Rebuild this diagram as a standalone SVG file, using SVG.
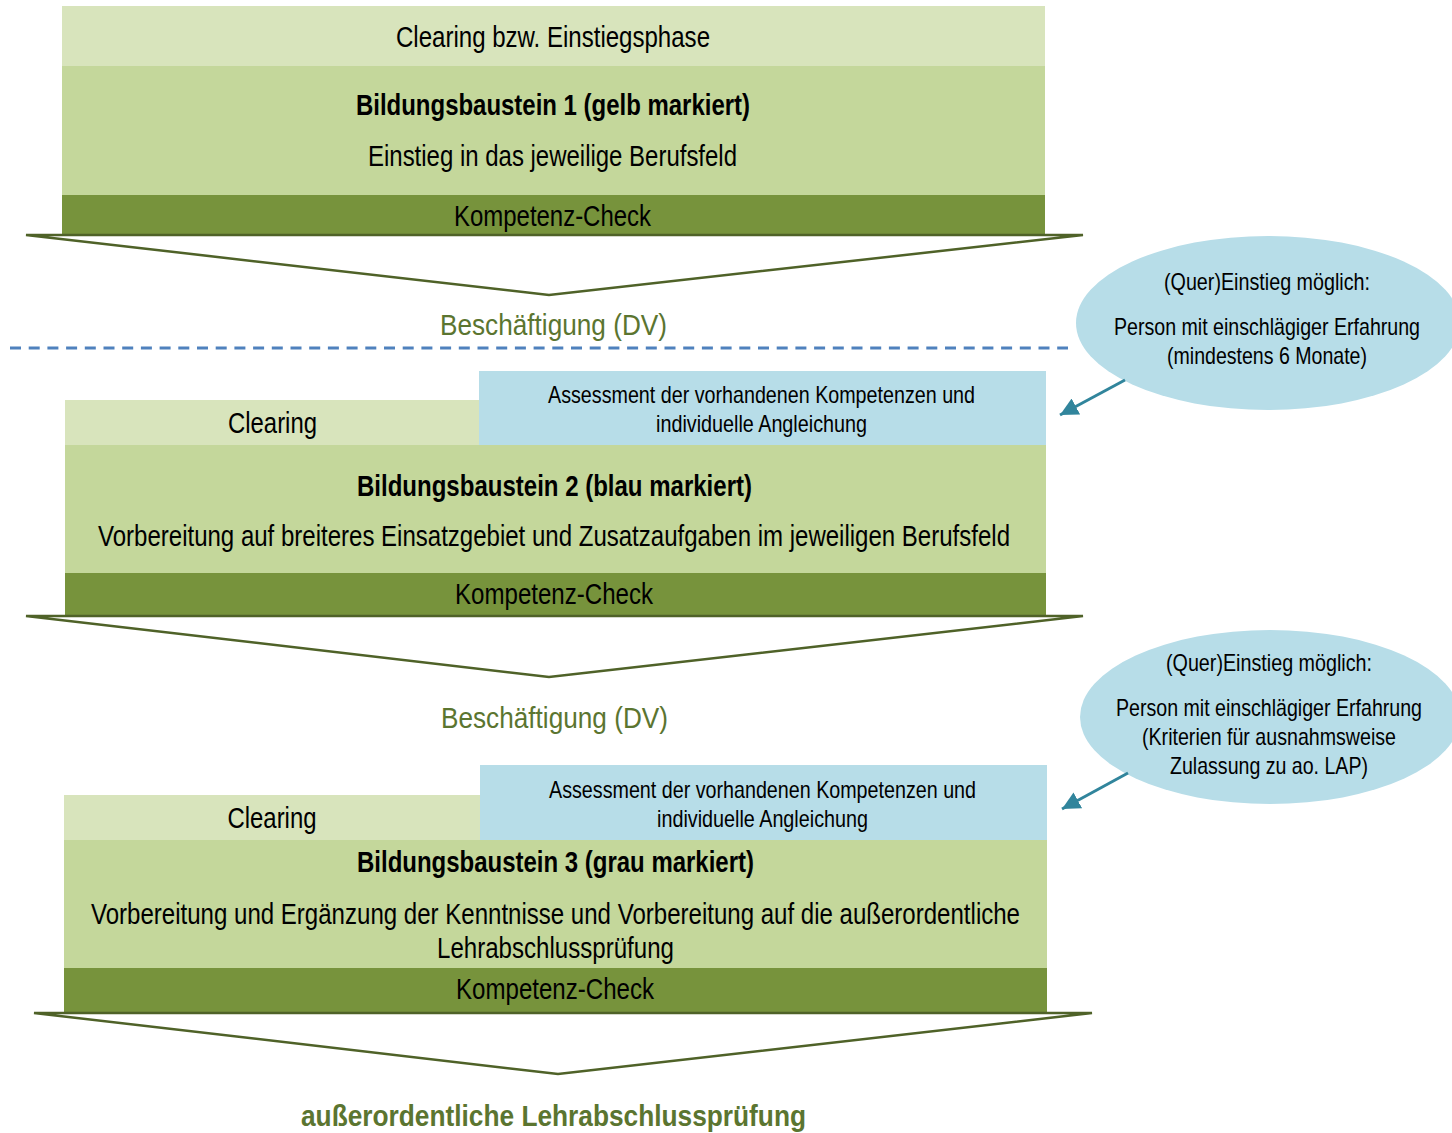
<svg xmlns="http://www.w3.org/2000/svg" width="1452" height="1133" viewBox="0 0 1452 1133">
  <style>
    text { font-family: "Liberation Sans Narrow", "Arial Narrow", "Liberation Sans", sans-serif; fill: #000; text-anchor: middle; }
    .t26 { font-size: 29px; }
    .t22 { font-size: 24px; }
    .b { font-weight: bold; }
    .green { fill: #5B7530; }
    .light { fill: #D8E4BC; }
    .mid { fill: #C4D79B; }
    .dark { fill: #77933C; }
    .blue { fill: #B7DDE8; }
    .chev { fill: #FFFFFF; stroke: #4F6228; stroke-width: 2.5; stroke-linejoin: miter; }
    .link { stroke: #31859C; stroke-width: 3; fill: none; }
  </style>
  <defs>
    <marker id="tri" viewBox="0 0 10 10" refX="10" refY="5" markerWidth="6" markerHeight="6" orient="auto" markerUnits="strokeWidth">
      <path d="M0,0 L10,5 L0,10 Z" fill="#31859C"/>
    </marker>
  </defs>
  <rect width="1452" height="1133" fill="#FFFFFF"/>

  <!-- module 1 -->
  <g id="baustein1">
    <rect class="light" x="62" y="6" width="983" height="60"/>
    <text class="t26" x="553" y="47" textLength="314" lengthAdjust="spacingAndGlyphs">Clearing bzw. Einstiegsphase</text>
    <rect class="mid" x="62" y="66" width="983" height="129"/>
    <text class="t26 b" x="553" y="115" textLength="394" lengthAdjust="spacingAndGlyphs">Bildungsbaustein 1 (gelb markiert)</text>
    <text class="t26" x="552.5" y="166" textLength="369" lengthAdjust="spacingAndGlyphs">Einstieg in das jeweilige Berufsfeld</text>
    <rect class="dark" x="62" y="195" width="983" height="40"/>
    <text class="t26" x="552.5" y="226" textLength="197" lengthAdjust="spacingAndGlyphs">Kompetenz-Check</text>
  </g>
  <g id="pfeil1">
    <polygon class="chev" points="26,235 1083,235 549,295"/>
  </g>
  <g id="beschaeftigung1">
    <text class="t26 green" x="553.5" y="335" textLength="227" lengthAdjust="spacingAndGlyphs">Beschäftigung (DV)</text>
  </g>
  <line x1="10" y1="348" x2="1068" y2="348" stroke="#4F81BD" stroke-width="3" stroke-dasharray="11 7.7"/>

  <!-- module 2 -->
  <g id="baustein2">
    <rect class="light" x="65" y="400" width="414" height="45"/>
    <text class="t26" x="272.5" y="433" textLength="89" lengthAdjust="spacingAndGlyphs">Clearing</text>
    <rect class="blue" x="479" y="371" width="567" height="74"/>
    <text class="t22" x="761.5" y="403" textLength="427" lengthAdjust="spacingAndGlyphs">Assessment der vorhandenen Kompetenzen und</text>
    <text class="t22" x="761.5" y="432" textLength="211" lengthAdjust="spacingAndGlyphs">individuelle Angleichung</text>
    <rect class="mid" x="65" y="445" width="981" height="128"/>
    <text class="t26 b" x="554.5" y="496" textLength="395" lengthAdjust="spacingAndGlyphs">Bildungsbaustein 2 (blau markiert)</text>
    <text class="t26" x="554" y="546" textLength="912" lengthAdjust="spacingAndGlyphs">Vorbereitung auf breiteres Einsatzgebiet und Zusatzaufgaben im jeweiligen Berufsfeld</text>
    <rect class="dark" x="65" y="573" width="981" height="43"/>
    <text class="t26" x="554" y="604" textLength="198" lengthAdjust="spacingAndGlyphs">Kompetenz-Check</text>
  </g>
  <g id="pfeil2">
    <polygon class="chev" points="26,616 1083,616 549,677"/>
  </g>
  <g id="beschaeftigung2">
    <text class="t26 green" x="554.5" y="728" textLength="227" lengthAdjust="spacingAndGlyphs">Beschäftigung (DV)</text>
  </g>

  <!-- module 3 -->
  <g id="baustein3">
    <rect class="light" x="64" y="795" width="416" height="45"/>
    <text class="t26" x="272" y="828" textLength="89" lengthAdjust="spacingAndGlyphs">Clearing</text>
    <rect class="blue" x="480" y="765" width="567" height="75"/>
    <text class="t22" x="762.5" y="798" textLength="427" lengthAdjust="spacingAndGlyphs">Assessment der vorhandenen Kompetenzen und</text>
    <text class="t22" x="762.5" y="827" textLength="211" lengthAdjust="spacingAndGlyphs">individuelle Angleichung</text>
    <rect class="mid" x="64" y="840" width="983" height="128"/>
    <text class="t26 b" x="555.5" y="872" textLength="397" lengthAdjust="spacingAndGlyphs">Bildungsbaustein 3 (grau markiert)</text>
    <text class="t26" x="555.5" y="924" textLength="929" lengthAdjust="spacingAndGlyphs">Vorbereitung und Ergänzung der Kenntnisse und Vorbereitung auf die außerordentliche</text>
    <text class="t26" x="555.5" y="958" textLength="237" lengthAdjust="spacingAndGlyphs">Lehrabschlussprüfung</text>
    <rect class="dark" x="64" y="968" width="983" height="45"/>
    <text class="t26" x="555" y="999" textLength="198" lengthAdjust="spacingAndGlyphs">Kompetenz-Check</text>
  </g>
  <g id="pfeil3">
    <polygon class="chev" points="34,1013 1092,1013 558,1074"/>
  </g>
  <g id="abschluss">
    <text class="t26 b green" x="553.5" y="1126" textLength="505" lengthAdjust="spacingAndGlyphs">außerordentliche Lehrabschlussprüfung</text>
  </g>

  <!-- lateral entry notes -->
  <g id="quereinstieg1">
    <ellipse class="blue" cx="1268" cy="323" rx="192" ry="87"/>
    <text class="t22" x="1267" y="290" textLength="206" lengthAdjust="spacingAndGlyphs">(Quer)Einstieg möglich:</text>
    <text class="t22" x="1267" y="335" textLength="306" lengthAdjust="spacingAndGlyphs">Person mit einschlägiger Erfahrung</text>
    <text class="t22" x="1267" y="364" textLength="200" lengthAdjust="spacingAndGlyphs">(mindestens 6 Monate)</text>
  </g>
  <g id="quereinstieg2">
    <ellipse class="blue" cx="1270" cy="717" rx="190" ry="87"/>
    <text class="t22" x="1269" y="671" textLength="206" lengthAdjust="spacingAndGlyphs">(Quer)Einstieg möglich:</text>
    <text class="t22" x="1269" y="716" textLength="306" lengthAdjust="spacingAndGlyphs">Person mit einschlägiger Erfahrung</text>
    <text class="t22" x="1269" y="745" textLength="254" lengthAdjust="spacingAndGlyphs">(Kriterien für ausnahmsweise</text>
    <text class="t22" x="1269" y="774" textLength="198" lengthAdjust="spacingAndGlyphs">Zulassung zu ao. LAP)</text>
  </g>

  <!-- connectors -->
  <g id="verbindungen">
    <line class="link" x1="1125" y1="380" x2="1060" y2="415" marker-end="url(#tri)"/>
    <line class="link" x1="1128" y1="773" x2="1062" y2="809" marker-end="url(#tri)"/>
  </g>
</svg>
